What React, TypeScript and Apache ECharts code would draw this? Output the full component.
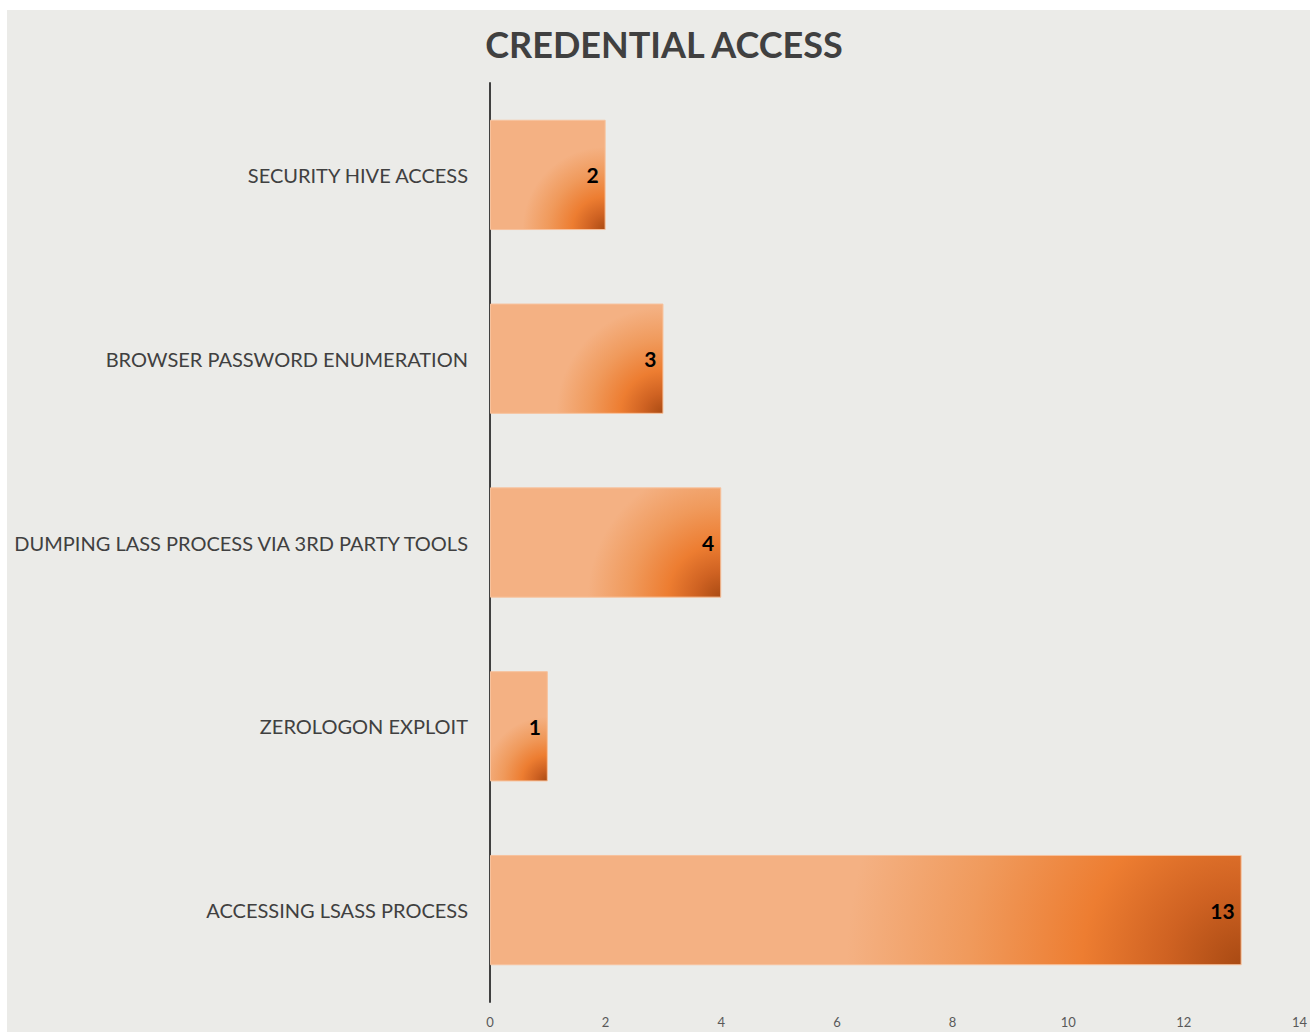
import React, { useEffect, useRef } from "react";
import * as echarts from "echarts";

const categories = [
  "SECURITY HIVE ACCESS",
  "BROWSER PASSWORD ENUMERATION",
  "DUMPING LASS PROCESS VIA 3RD PARTY TOOLS",
  "ZEROLOGON EXPLOIT",
  "ACCESSING LSASS PROCESS",
];
const values = [2, 3, 4, 1, 13];
const xTicks = { min: 0, max: 14, interval: 2 };
const titleText = "CREDENTIAL ACCESS";
const gradientStops = [
  { offset: 0, color: "#a94a13" },
  { offset: 0.1, color: "#cf6222" },
  { offset: 0.21, color: "#ed7d31" },
  { offset: 0.36, color: "#f09a5c" },
  { offset: 0.52, color: "#f4b183" },
  { offset: 1, color: "#f4b183" },
];

export default function App() {
  const ref = useRef<HTMLDivElement>(null);
  useEffect(() => {
    if (!ref.current) return;
    const chart = echarts.init(ref.current, null, { renderer: "svg" });
    const baseOption = {
      animation: false,
      backgroundColor: "#ebebe8",
      graphic: [
        {
          type: "text",
          x: 657,
          y: 34,
          style: {
            text: titleText,
            fontFamily: "Lato",
            fontWeight: "bold",
            fontSize: 36,
            fill: "#404040",
            textAlign: "center",
            textVerticalAlign: "middle",
          },
        },
      ],
      grid: { left: 483, right: 3, top: 73, bottom: 30, containLabel: false },
      xAxis: {
        type: "value",
        min: xTicks.min,
        max: xTicks.max,
        interval: xTicks.interval,
        axisLine: { show: false },
        axisTick: { show: false },
        splitLine: { show: false },
        axisLabel: {
          color: "#595959",
          fontFamily: "Lato",
          fontSize: 13,
          margin: 13,
        },
      },
      yAxis: {
        type: "category",
        data: categories,
        inverse: true,
        axisLine: { show: true, lineStyle: { color: "#404040", width: 2 } },
        axisTick: { show: false },
        axisLabel: {
          color: "#404040",
          fontFamily: "Lato",
          fontSize: 20,
          margin: 22,
        },
      },
      series: [
        {
          type: "bar",
          data: values,
          barCategoryGap: "40%",
          itemStyle: {
            color: "#f4b183",
            borderColor: "#f7c29d",
            borderWidth: 1,
          },
          label: {
            show: true,
            position: "insideRight",
            distance: 7,
            color: "#000000",
            fontFamily: "Lato",
            fontWeight: "bold",
            fontSize: 21,
          },
        },
      ],
    };
    chart.setOption(baseOption);

    const finder = { xAxisIndex: 0, yAxisIndex: 0 };
    const c0 = chart.convertToPixel(finder, [0, 0]) as number[];
    const c1 = chart.convertToPixel(finder, [0, 1]) as number[];
    const band = Math.abs(c1[1] - c0[1]);
    const halfBar = (band * 0.6) / 2;
    const styledData = values.map((v, i) => {
      const end = chart.convertToPixel(finder, [v, i]) as number[];
      const start = chart.convertToPixel(finder, [0, i]) as number[];
      const w = Math.abs(end[0] - start[0]);
      const h = halfBar * 2;
      const diag = Math.sqrt(w * w + h * h);
      return {
        value: v,
        itemStyle: {
          color: new echarts.graphic.RadialGradient(
            end[0],
            end[1] + halfBar,
            diag,
            gradientStops,
            true
          ),
        },
      };
    });
    chart.setOption({ series: [{ data: styledData }] });
    return () => chart.dispose();
  }, []);
  return (
    <div style={{ position: "fixed", inset: 0, background: "#ffffff" }}>
      <div
        ref={ref}
        style={{ position: "absolute", left: 7, top: 10, width: 1303, height: 1022 }}
      />
    </div>
  );
}
